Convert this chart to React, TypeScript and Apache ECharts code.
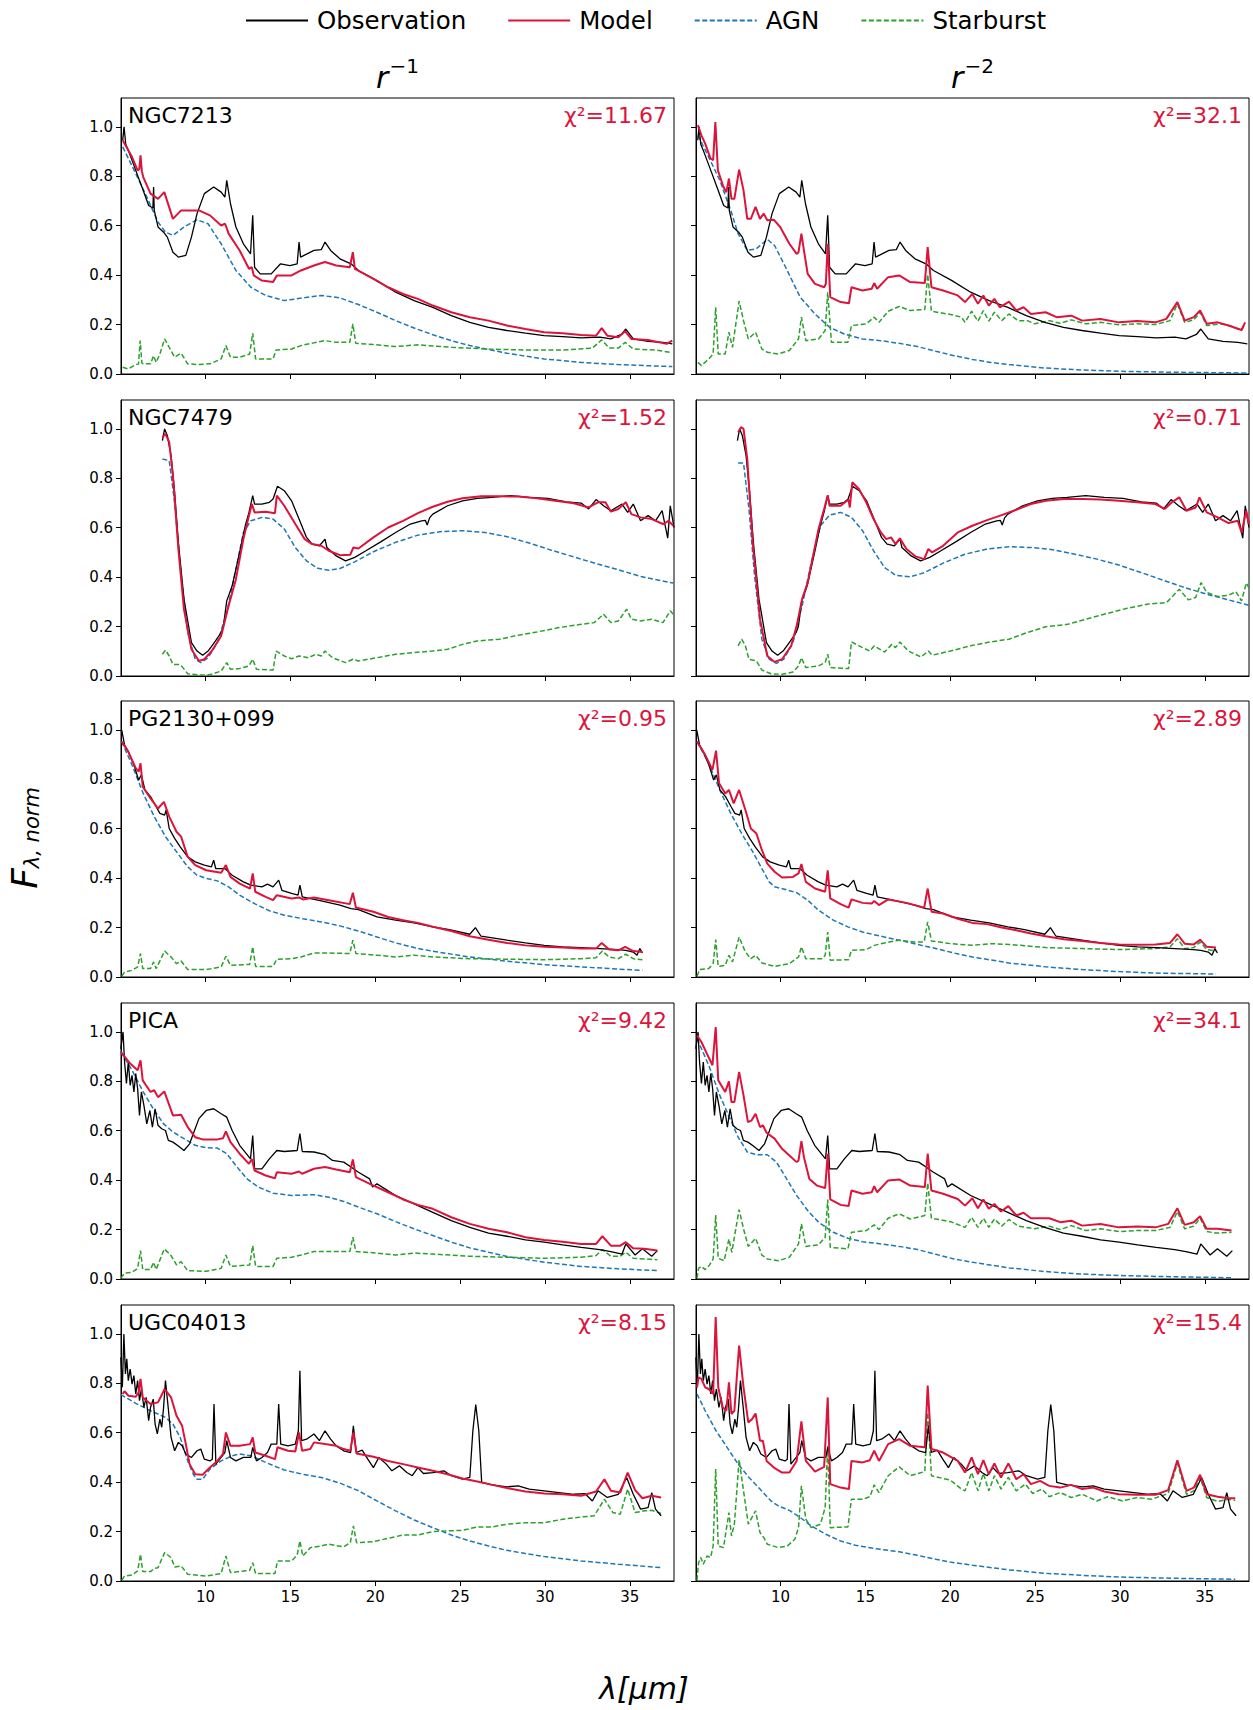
import React, { useEffect, useRef } from 'react';
import * as echarts from 'echarts';

const X_MIN = 5.02;
const X_MAX = 37.6;
const Y_MAX = 1.117;
const X_TICKS = [10, 15, 20, 25, 30, 35];
const Y_TICKS = [0, 0.2, 0.4, 0.6, 0.8, 1.0];
const GALAXIES = ['NGC7213', 'NGC7479', 'PG2130+099', 'PICA', 'UGC04013'];
const CHI_R1 = ['11.67', '1.52', '0.95', '9.42', '8.15'];
const CHI_R2 = ['32.1', '0.71', '2.89', '34.1', '15.4'];

// ---------- NGC7213 ----------
const OBS_NGC7213 = [[5.12,0.946],[5.2,1.0],[5.3,0.93],[5.45,0.905],[5.89,0.824],[6.33,0.743],[6.65,0.682],[6.9,0.672],[6.94,0.757],[6.98,0.662],[7.2,0.595],[7.53,0.574],[7.75,0.554],[8.08,0.493],[8.4,0.473],[8.84,0.48],[9.17,0.554],[9.5,0.649],[9.93,0.73],[10.48,0.757],[10.92,0.736],[11.14,0.716],[11.25,0.784],[11.47,0.689],[11.79,0.595],[12.23,0.527],[12.65,0.486],[12.78,0.642],[12.89,0.432],[13.22,0.405],[13.87,0.405],[14.42,0.446],[14.97,0.439],[15.4,0.446],[15.51,0.534],[15.6,0.473],[16.39,0.5],[16.82,0.503],[17.04,0.534],[17.37,0.5],[17.92,0.466],[18.57,0.446],[19.01,0.419],[20.1,0.378],[21.2,0.331],[22.29,0.297],[23.39,0.27],[24.48,0.236],[25.57,0.209],[26.67,0.189],[27.76,0.176],[28.85,0.165],[29.95,0.155],[31.04,0.151],[32.13,0.146],[33.23,0.149],[33.88,0.142],[34.5,0.16],[34.76,0.182],[35.2,0.142],[36.07,0.132],[36.95,0.128],[37.5,0.122]];
const MOD1_NGC7213 = [[5.12,0.946],[5.67,0.878],[6.0,0.824],[6.1,0.83],[6.17,0.885],[6.25,0.82],[6.33,0.797],[6.76,0.73],[7.2,0.709],[7.57,0.736],[8.08,0.628],[8.56,0.662],[8.95,0.662],[9.61,0.662],[10.26,0.642],[10.92,0.601],[11.14,0.608],[11.2,0.6],[11.36,0.568],[12.01,0.5],[12.56,0.426],[12.73,0.432],[12.84,0.399],[13.32,0.378],[13.98,0.372],[14.2,0.399],[15.07,0.399],[15.62,0.419],[16.39,0.439],[17.04,0.453],[17.7,0.439],[18.5,0.432],[18.68,0.493],[18.8,0.425],[19.89,0.385],[20.76,0.351],[21.64,0.324],[22.51,0.304],[23.39,0.277],[24.48,0.25],[25.57,0.23],[26.67,0.216],[27.76,0.196],[28.85,0.182],[29.95,0.169],[31.04,0.165],[32.13,0.158],[33.01,0.155],[33.34,0.186],[33.67,0.155],[34.32,0.149],[34.72,0.173],[35.09,0.142],[36.07,0.138],[37.17,0.122],[37.5,0.135]];
const AGN1_NGC7213 = [[5.12,0.919],[5.89,0.811],[6.54,0.716],[7.2,0.615],[7.64,0.574],[8.08,0.561],[8.73,0.595],[9.5,0.624],[10.15,0.608],[10.92,0.527],[11.79,0.419],[12.67,0.351],[13.54,0.318],[14.64,0.297],[15.73,0.308],[16.82,0.318],[17.92,0.308],[19.01,0.281],[20.1,0.25],[21.2,0.216],[22.29,0.186],[23.39,0.159],[24.48,0.135],[25.57,0.115],[27.76,0.084],[29.95,0.061],[32.13,0.047],[34.32,0.038],[37.5,0.03]];
const SB1_NGC7213 = [[5.12,0.027],[5.45,0.02],[5.89,0.038],[6.05,0.04],[6.15,0.135],[6.25,0.045],[6.33,0.041],[6.76,0.041],[6.94,0.074],[7.09,0.047],[7.31,0.081],[7.59,0.142],[7.86,0.108],[8.18,0.068],[8.56,0.084],[8.95,0.041],[9.61,0.038],[10.26,0.041],[10.92,0.061],[11.2,0.115],[11.47,0.068],[12.01,0.068],[12.6,0.081],[12.78,0.165],[12.95,0.061],[13.98,0.061],[14.16,0.097],[15.07,0.101],[15.62,0.115],[16.39,0.126],[17.04,0.135],[17.7,0.128],[18.5,0.128],[18.68,0.203],[18.85,0.124],[19.89,0.119],[21.2,0.111],[22.51,0.118],[24.48,0.108],[26.67,0.101],[28.85,0.097],[31.04,0.097],[32.79,0.105],[33.34,0.138],[33.78,0.105],[34.32,0.105],[34.72,0.128],[35.2,0.101],[36.51,0.097],[37.38,0.088]];
const MOD2_NGC7213 = [[5.13,1.007],[5.34,0.966],[5.56,0.932],[5.88,0.872],[6.03,0.865],[6.16,1.02],[6.31,0.824],[6.64,0.757],[6.81,0.736],[6.96,0.791],[7.11,0.709],[7.28,0.709],[7.56,0.827],[7.82,0.743],[8.04,0.628],[8.25,0.628],[8.53,0.676],[8.79,0.628],[9.01,0.649],[9.22,0.622],[9.61,0.624],[9.98,0.595],[10.52,0.527],[10.95,0.486],[11.06,0.493],[11.23,0.568],[11.38,0.5],[11.6,0.405],[12.03,0.365],[12.57,0.351],[12.67,0.365],[12.78,0.527],[12.93,0.311],[13.54,0.291],[14.03,0.286],[14.18,0.351],[14.83,0.338],[15.37,0.345],[15.52,0.368],[15.69,0.345],[16.34,0.392],[16.99,0.399],[17.64,0.372],[18.5,0.368],[18.67,0.514],[18.89,0.351],[19.58,0.338],[20.44,0.318],[20.87,0.291],[21.3,0.324],[21.63,0.284],[21.95,0.318],[22.27,0.277],[22.6,0.304],[22.92,0.27],[23.46,0.293],[23.89,0.257],[24.32,0.27],[24.75,0.243],[25.62,0.25],[26.26,0.23],[27.13,0.236],[27.77,0.216],[28.85,0.223],[29.93,0.209],[31.01,0.214],[32.09,0.209],[32.73,0.223],[33.38,0.291],[33.81,0.216],[34.35,0.23],[34.72,0.257],[35.11,0.203],[35.75,0.209],[36.4,0.196],[37.16,0.178],[37.37,0.209]];
const AGN2_NGC7213 = [[5.13,0.966],[5.77,0.878],[6.42,0.784],[7.07,0.662],[7.5,0.568],[8.04,0.5],[8.58,0.507],[9.22,0.545],[9.65,0.52],[10.3,0.432],[11.16,0.311],[12.03,0.243],[12.89,0.189],[13.75,0.162],[14.83,0.142],[15.91,0.135],[16.99,0.124],[18.07,0.111],[19.15,0.092],[20.22,0.074],[21.3,0.059],[22.38,0.047],[23.46,0.038],[25.62,0.024],[27.77,0.016],[29.93,0.011],[33.17,0.007],[37.55,0.004]];
const SB2_NGC7213 = [[5.13,0.047],[5.34,0.034],[5.77,0.061],[6.03,0.081],[6.18,0.27],[6.33,0.081],[6.74,0.081],[6.96,0.169],[7.17,0.108],[7.56,0.295],[7.82,0.216],[8.1,0.142],[8.53,0.169],[8.9,0.101],[9.22,0.088],[9.87,0.081],[10.52,0.095],[11.06,0.142],[11.23,0.23],[11.49,0.135],[12.24,0.142],[12.63,0.176],[12.78,0.331],[13.0,0.128],[13.97,0.128],[14.18,0.196],[15.05,0.203],[15.52,0.23],[15.8,0.209],[16.34,0.254],[16.99,0.273],[17.64,0.257],[18.5,0.261],[18.67,0.403],[18.89,0.254],[20.01,0.241],[20.66,0.23],[20.87,0.209],[21.26,0.254],[21.63,0.214],[21.95,0.257],[22.27,0.214],[22.6,0.25],[23.03,0.216],[23.46,0.243],[24.0,0.216],[24.54,0.216],[24.97,0.203],[25.83,0.216],[26.48,0.205],[27.13,0.219],[27.99,0.203],[28.85,0.209],[29.93,0.199],[31.01,0.203],[32.09,0.2],[32.95,0.216],[33.38,0.284],[33.81,0.209],[34.35,0.219],[34.72,0.25],[35.11,0.196],[35.97,0.203],[36.62,0.192],[37.16,0.176],[37.37,0.203]];

// ---------- NGC7479 ----------
const OBS_NGC7479 = [[7.46,0.953],[7.59,1.0],[7.75,0.973],[7.97,0.892],[8.18,0.743],[8.4,0.541],[8.73,0.311],[9.17,0.135],[9.5,0.101],[9.83,0.084],[10.15,0.101],[10.59,0.142],[10.92,0.176],[11.05,0.2],[11.25,0.304],[11.57,0.365],[12.01,0.5],[12.34,0.608],[12.56,0.662],[12.78,0.73],[12.89,0.696],[13.32,0.696],[13.76,0.703],[13.98,0.716],[14.24,0.768],[14.64,0.75],[15.07,0.709],[15.51,0.635],[15.95,0.561],[16.28,0.534],[16.71,0.527],[17.04,0.554],[17.15,0.52],[17.7,0.486],[18.25,0.466],[18.79,0.48],[19.45,0.507],[20.32,0.543],[21.2,0.581],[22.07,0.615],[22.73,0.628],[22.95,0.63],[23.06,0.611],[23.2,0.64],[23.39,0.655],[24.26,0.689],[25.14,0.709],[26.01,0.719],[26.89,0.723],[27.98,0.73],[29.07,0.723],[30.17,0.719],[31.26,0.705],[32.13,0.7],[32.57,0.676],[33.01,0.714],[33.45,0.689],[33.88,0.669],[34.54,0.696],[34.87,0.662],[35.2,0.696],[35.63,0.628],[36.07,0.649],[36.51,0.628],[36.9,0.669],[37.23,0.558],[37.38,0.689],[37.6,0.601]];
const MOD1_NGC7479 = [[7.46,0.966],[7.64,0.98],[7.86,0.946],[8.08,0.811],[8.4,0.514],[8.73,0.27],[9.17,0.108],[9.61,0.061],[9.93,0.068],[10.37,0.101],[10.92,0.162],[11.36,0.284],[11.79,0.392],[12.23,0.554],[12.56,0.649],[12.73,0.696],[12.89,0.662],[13.54,0.665],[14.09,0.659],[14.2,0.73],[14.64,0.689],[15.29,0.615],[15.84,0.554],[16.28,0.534],[16.82,0.527],[17.26,0.507],[17.92,0.489],[18.53,0.491],[18.71,0.52],[19.01,0.516],[19.89,0.561],[20.76,0.601],[21.64,0.628],[22.51,0.659],[23.39,0.685],[24.26,0.705],[25.14,0.719],[26.23,0.727],[27.32,0.727],[28.42,0.726],[29.51,0.719],[30.6,0.709],[31.7,0.699],[32.57,0.682],[33.12,0.703],[33.56,0.703],[33.88,0.665],[34.32,0.676],[34.76,0.703],[35.09,0.655],[35.63,0.642],[36.29,0.635],[36.95,0.615],[37.28,0.628],[37.56,0.608]];
const AGN1_NGC7479 = [[7.46,0.878],[7.86,0.872],[8.18,0.703],[8.51,0.446],[8.95,0.176],[9.39,0.068],[9.72,0.054],[10.15,0.074],[10.7,0.135],[11.25,0.257],[11.79,0.432],[12.23,0.581],[12.67,0.628],[13.32,0.642],[13.98,0.635],[14.64,0.595],[15.29,0.52],[15.95,0.466],[16.61,0.436],[17.26,0.428],[17.92,0.435],[18.79,0.462],[19.89,0.503],[21.2,0.541],[22.51,0.57],[23.82,0.584],[25.14,0.588],[26.45,0.581],[27.76,0.564],[29.07,0.538],[30.38,0.509],[31.7,0.482],[33.01,0.455],[34.32,0.43],[35.63,0.403],[37.56,0.376]];
const SB1_NGC7479 = [[7.46,0.088],[7.64,0.105],[7.86,0.081],[8.08,0.047],[8.4,0.047],[8.62,0.038],[8.95,0.009],[9.61,0.004],[10.26,0.005],[10.92,0.02],[11.25,0.054],[11.47,0.027],[12.01,0.03],[12.56,0.041],[12.78,0.068],[13.0,0.027],[13.98,0.024],[14.16,0.101],[14.64,0.081],[15.07,0.07],[15.51,0.081],[16.06,0.074],[16.5,0.088],[16.82,0.081],[17.04,0.101],[17.48,0.074],[18.25,0.054],[18.68,0.068],[19.01,0.061],[20.1,0.074],[21.2,0.088],[22.29,0.095],[23.39,0.101],[24.26,0.108],[25.14,0.128],[26.01,0.142],[27.32,0.149],[28.42,0.165],[29.51,0.178],[30.82,0.196],[32.13,0.209],[32.9,0.216],[33.45,0.25],[33.88,0.216],[34.32,0.223],[34.81,0.27],[35.09,0.23],[35.63,0.223],[36.29,0.23],[36.95,0.216],[37.38,0.264],[37.56,0.25]];
const MOD2_NGC7479 = [[7.5,0.986],[7.67,1.007],[7.82,1.0],[8.04,0.878],[8.36,0.541],[8.79,0.23],[9.22,0.081],[9.65,0.057],[10.09,0.068],[10.63,0.122],[10.95,0.203],[11.27,0.311],[11.6,0.378],[12.24,0.595],[12.57,0.676],[12.78,0.732],[12.89,0.689],[13.54,0.689],[14.01,0.714],[14.08,0.682],[14.23,0.784],[14.62,0.757],[15.05,0.703],[15.48,0.635],[15.91,0.581],[16.23,0.554],[16.51,0.561],[16.77,0.534],[17.03,0.557],[17.42,0.514],[17.96,0.484],[18.46,0.473],[18.71,0.514],[18.93,0.5],[19.58,0.527],[20.44,0.581],[21.3,0.608],[22.17,0.631],[23.03,0.651],[23.89,0.673],[24.75,0.696],[25.62,0.709],[26.7,0.716],[27.77,0.716],[28.85,0.714],[29.93,0.709],[31.01,0.703],[32.09,0.696],[32.63,0.676],[33.06,0.703],[33.49,0.723],[33.92,0.669],[34.46,0.682],[34.68,0.723],[35.11,0.662],[35.75,0.642],[36.4,0.619],[36.94,0.628],[37.16,0.581],[37.44,0.669],[37.59,0.615]];
const AGN2_NGC7479 = [[7.5,0.862],[7.82,0.862],[8.14,0.676],[8.47,0.405],[8.9,0.149],[9.33,0.068],[9.76,0.051],[10.19,0.068],[10.73,0.135],[11.27,0.284],[11.81,0.459],[12.35,0.608],[12.89,0.651],[13.54,0.662],[14.18,0.642],[14.83,0.588],[15.48,0.507],[16.13,0.439],[16.77,0.408],[17.64,0.401],[18.5,0.419],[19.58,0.457],[20.87,0.493],[22.17,0.514],[23.46,0.523],[24.75,0.52],[26.05,0.511],[27.34,0.493],[28.64,0.473],[29.93,0.449],[31.23,0.419],[32.52,0.388],[33.81,0.358],[35.11,0.331],[36.4,0.308],[37.59,0.286]];
const SB2_NGC7479 = [[7.5,0.122],[7.71,0.149],[7.93,0.122],[8.14,0.068],[8.58,0.061],[8.9,0.024],[9.44,0.009],[10.09,0.007],[10.73,0.016],[11.06,0.041],[11.23,0.074],[11.49,0.034],[12.24,0.041],[12.63,0.054],[12.78,0.088],[12.93,0.034],[14.01,0.03],[14.18,0.138],[14.83,0.115],[15.26,0.101],[15.52,0.122],[16.13,0.097],[16.56,0.128],[16.77,0.115],[17.03,0.138],[17.53,0.101],[18.28,0.077],[18.71,0.101],[18.93,0.084],[20.01,0.101],[21.3,0.124],[22.38,0.138],[23.46,0.149],[24.54,0.176],[25.62,0.199],[26.91,0.209],[27.99,0.23],[29.07,0.25],[30.36,0.273],[31.66,0.291],[32.74,0.297],[33.49,0.351],[34.03,0.308],[34.46,0.318],[34.78,0.378],[35.11,0.338],[35.75,0.322],[36.4,0.327],[36.83,0.341],[37.16,0.304],[37.44,0.376],[37.59,0.358]];

// ---------- PG2130+099 ----------
const OBS_PG2130 = [[5.06,1.0],[5.23,0.939],[5.45,0.912],[5.78,0.858],[6.06,0.797],[6.22,0.818],[6.43,0.757],[6.76,0.73],[7.09,0.689],[7.31,0.662],[7.59,0.655],[7.68,0.676],[7.86,0.601],[8.18,0.561],[8.51,0.527],[8.95,0.486],[9.39,0.466],[9.93,0.453],[10.35,0.446],[10.48,0.473],[10.6,0.439],[11.14,0.439],[11.57,0.412],[12.23,0.385],[12.67,0.372],[13.32,0.365],[13.65,0.376],[13.98,0.365],[14.31,0.392],[14.5,0.351],[15.07,0.338],[15.45,0.331],[15.56,0.372],[15.7,0.324],[16.82,0.308],[17.92,0.291],[18.57,0.277],[19.01,0.273],[20.1,0.243],[21.2,0.23],[22.29,0.219],[23.39,0.203],[24.37,0.192],[25.57,0.173],[25.9,0.2],[26.23,0.165],[27.76,0.149],[28.85,0.138],[29.95,0.128],[31.04,0.122],[32.13,0.119],[33.23,0.115],[34.32,0.111],[34.76,0.108],[35.2,0.101],[35.42,0.088],[35.59,0.115],[35.74,0.097]];
const MOD1_PG2130 = [[5.06,0.953],[5.45,0.912],[5.89,0.845],[6.06,0.831],[6.17,0.865],[6.3,0.77],[6.76,0.723],[7.2,0.682],[7.55,0.709],[7.86,0.649],[8.29,0.588],[8.56,0.568],[8.95,0.486],[9.39,0.453],[10.04,0.432],[10.92,0.422],[11.2,0.453],[11.47,0.405],[12.01,0.378],[12.62,0.358],[12.78,0.419],[12.93,0.345],[13.54,0.324],[13.98,0.311],[14.2,0.331],[15.07,0.318],[15.51,0.322],[15.73,0.314],[16.39,0.322],[17.26,0.311],[18.5,0.295],[18.68,0.341],[18.86,0.281],[19.89,0.264],[20.76,0.243],[21.64,0.23],[22.51,0.219],[23.39,0.203],[24.48,0.186],[25.57,0.165],[26.67,0.151],[27.76,0.138],[28.85,0.128],[29.95,0.122],[31.04,0.119],[32.13,0.115],[33.01,0.115],[33.34,0.138],[33.78,0.111],[34.32,0.108],[34.72,0.122],[35.2,0.105],[35.74,0.101]];
const AGN1_PG2130 = [[5.06,0.953],[5.67,0.858],[6.33,0.743],[6.98,0.649],[7.64,0.568],[8.29,0.507],[8.95,0.446],[9.5,0.412],[10.04,0.399],[10.7,0.389],[11.36,0.365],[12.01,0.331],[12.89,0.297],[13.76,0.268],[14.64,0.25],[15.73,0.236],[16.82,0.223],[17.92,0.207],[19.01,0.186],[20.1,0.162],[21.2,0.138],[22.29,0.119],[23.39,0.104],[25.57,0.081],[27.76,0.064],[29.95,0.05],[32.13,0.041],[34.32,0.032],[35.74,0.027]];
const SB1_PG2130 = [[5.06,0.003],[5.23,0.02],[5.67,0.027],[6.0,0.041],[6.17,0.095],[6.3,0.034],[6.76,0.034],[6.94,0.061],[7.09,0.034],[7.59,0.105],[7.97,0.081],[8.29,0.054],[8.56,0.065],[8.95,0.03],[10.04,0.03],[10.92,0.041],[11.2,0.084],[11.47,0.047],[12.6,0.051],[12.78,0.122],[12.95,0.043],[13.98,0.043],[14.2,0.072],[15.07,0.074],[15.62,0.081],[16.39,0.097],[17.26,0.097],[18.5,0.095],[18.68,0.149],[18.86,0.095],[20.1,0.088],[21.2,0.081],[22.29,0.088],[23.39,0.081],[25.57,0.074],[27.76,0.072],[29.95,0.07],[32.13,0.074],[33.01,0.078],[33.38,0.105],[33.78,0.081],[34.32,0.074],[34.76,0.092],[35.2,0.074],[35.74,0.07]];
const MOD2_PG2130 = [[5.08,0.953],[5.56,0.899],[5.99,0.838],[6.2,0.916],[6.38,0.784],[6.74,0.743],[6.96,0.757],[7.24,0.703],[7.56,0.757],[7.93,0.676],[8.25,0.601],[8.58,0.581],[8.9,0.514],[9.22,0.459],[9.65,0.426],[10.09,0.403],[10.73,0.405],[11.06,0.419],[11.23,0.457],[11.49,0.385],[12.03,0.358],[12.63,0.345],[12.78,0.432],[12.93,0.318],[13.54,0.295],[14.01,0.281],[14.18,0.314],[14.83,0.3],[15.37,0.297],[15.52,0.308],[15.8,0.291],[16.34,0.314],[17.42,0.3],[18.46,0.28],[18.67,0.358],[18.9,0.264],[19.58,0.257],[20.44,0.236],[21.3,0.219],[22.17,0.214],[23.03,0.2],[23.89,0.189],[24.75,0.176],[25.62,0.165],[26.7,0.153],[27.77,0.146],[28.85,0.138],[29.93,0.132],[31.01,0.131],[32.09,0.132],[32.95,0.138],[33.38,0.173],[33.81,0.135],[34.35,0.132],[34.72,0.151],[35.11,0.122],[35.65,0.119]];
const AGN2_PG2130 = [[5.08,0.953],[5.77,0.865],[6.42,0.757],[7.07,0.662],[7.71,0.581],[8.36,0.507],[8.9,0.439],[9.33,0.385],[9.65,0.365],[10.3,0.354],[10.95,0.341],[11.6,0.311],[12.24,0.27],[13.11,0.23],[13.97,0.203],[14.83,0.182],[15.91,0.165],[16.99,0.149],[18.07,0.132],[19.15,0.115],[20.22,0.097],[21.3,0.081],[23.46,0.057],[25.62,0.041],[27.77,0.03],[29.93,0.022],[32.09,0.016],[35.65,0.012]];
const SB2_PG2130 = [[5.08,0.003],[5.23,0.03],[5.77,0.034],[6.03,0.054],[6.18,0.151],[6.33,0.043],[6.74,0.047],[6.96,0.088],[7.17,0.061],[7.56,0.162],[7.93,0.101],[8.25,0.074],[8.53,0.088],[8.9,0.057],[9.65,0.043],[10.52,0.054],[11.06,0.081],[11.23,0.122],[11.49,0.074],[12.46,0.074],[12.63,0.088],[12.78,0.182],[12.93,0.068],[14.01,0.07],[14.18,0.108],[15.05,0.111],[15.52,0.128],[16.13,0.138],[16.99,0.149],[17.85,0.142],[18.46,0.142],[18.67,0.223],[18.89,0.146],[20.01,0.135],[21.3,0.128],[22.38,0.135],[23.46,0.132],[25.62,0.119],[27.77,0.115],[29.93,0.111],[32.09,0.115],[32.95,0.122],[33.38,0.155],[33.81,0.115],[34.35,0.119],[34.72,0.142],[35.11,0.111],[35.65,0.105]];

// ---------- PICA ----------
const OBS_PICA = [[5.01,0.932],[5.14,1.0],[5.23,0.878],[5.34,0.791],[5.45,0.878],[5.56,0.784],[5.67,0.824],[5.78,0.757],[5.89,0.831],[6.0,0.77],[6.11,0.662],[6.22,0.757],[6.37,0.703],[6.54,0.628],[6.72,0.682],[6.87,0.615],[7.03,0.689],[7.2,0.622],[7.42,0.608],[7.64,0.601],[7.81,0.561],[8.08,0.554],[8.4,0.538],[8.73,0.52],[9.06,0.547],[9.28,0.588],[9.61,0.649],[10.04,0.682],[10.48,0.689],[10.92,0.669],[11.25,0.655],[11.57,0.601],[12.01,0.541],[12.65,0.486],[12.78,0.581],[12.89,0.446],[13.32,0.446],[13.76,0.486],[14.2,0.52],[14.64,0.516],[15.4,0.52],[15.56,0.588],[15.7,0.516],[16.39,0.514],[17.04,0.503],[17.48,0.48],[18.14,0.473],[18.57,0.453],[19.01,0.432],[19.67,0.405],[19.84,0.372],[20.1,0.385],[21.2,0.338],[22.29,0.304],[23.39,0.27],[24.48,0.236],[25.57,0.209],[26.67,0.186],[27.76,0.173],[28.85,0.158],[29.95,0.149],[31.04,0.138],[32.13,0.128],[33.23,0.119],[33.88,0.111],[34.54,0.101],[34.76,0.142],[35.31,0.097],[35.74,0.122],[36.29,0.092],[36.62,0.115]];
const MOD1_PICA = [[5.01,0.919],[5.56,0.872],[6.0,0.845],[6.17,0.885],[6.3,0.804],[6.76,0.757],[6.98,0.764],[7.2,0.736],[7.57,0.759],[8.08,0.662],[8.56,0.665],[8.95,0.615],[9.39,0.574],[9.83,0.565],[10.7,0.565],[11.03,0.57],[11.2,0.597],[11.47,0.554],[12.01,0.507],[12.56,0.466],[12.73,0.486],[12.89,0.439],[13.54,0.419],[14.09,0.408],[14.2,0.432],[15.07,0.426],[15.51,0.435],[15.69,0.426],[16.39,0.446],[17.04,0.453],[17.7,0.443],[18.5,0.432],[18.68,0.484],[18.86,0.412],[19.89,0.378],[20.76,0.351],[21.64,0.322],[22.51,0.3],[23.39,0.284],[24.48,0.25],[25.57,0.223],[26.67,0.203],[27.76,0.189],[28.85,0.169],[29.95,0.158],[31.04,0.151],[32.13,0.142],[33.01,0.142],[33.38,0.173],[33.88,0.135],[34.43,0.135],[34.76,0.149],[35.2,0.124],[35.85,0.122],[36.62,0.115]];
const AGN1_PICA = [[5.01,0.919],[5.67,0.845],[6.33,0.757],[6.98,0.682],[7.53,0.628],[8.08,0.595],[8.73,0.568],[9.39,0.541],[10.04,0.531],[10.7,0.53],[11.25,0.507],[11.79,0.459],[12.45,0.405],[13.11,0.372],[13.98,0.347],[15.07,0.338],[16.39,0.341],[17.26,0.331],[18.14,0.314],[19.01,0.291],[20.1,0.264],[21.2,0.232],[22.29,0.203],[23.39,0.176],[24.48,0.149],[25.57,0.126],[27.76,0.091],[29.95,0.068],[32.13,0.051],[34.32,0.041],[36.62,0.034]];
const SB1_PICA = [[5.01,0.003],[5.23,0.024],[5.67,0.027],[6.0,0.043],[6.17,0.115],[6.3,0.038],[6.76,0.038],[6.94,0.068],[7.09,0.038],[7.57,0.122],[7.97,0.095],[8.29,0.057],[8.56,0.07],[8.95,0.034],[10.04,0.031],[10.92,0.043],[11.2,0.097],[11.47,0.051],[12.6,0.057],[12.78,0.135],[12.95,0.051],[13.98,0.051],[14.2,0.084],[15.07,0.088],[15.62,0.097],[16.39,0.111],[17.26,0.111],[18.5,0.111],[18.68,0.169],[18.86,0.111],[20.1,0.105],[21.2,0.097],[22.29,0.105],[23.39,0.101],[25.57,0.092],[27.76,0.088],[29.95,0.084],[32.13,0.088],[33.01,0.095],[33.38,0.119],[33.88,0.092],[34.43,0.092],[34.76,0.108],[35.2,0.084],[36.62,0.078]];
const MOD2_PICA = [[5.08,0.986],[5.34,0.959],[5.66,0.912],[5.99,0.865],[6.18,1.02],[6.33,0.804],[6.74,0.757],[6.96,0.8],[7.11,0.716],[7.28,0.716],[7.56,0.838],[7.82,0.743],[8.08,0.635],[8.3,0.642],[8.53,0.669],[8.79,0.615],[8.96,0.622],[9.18,0.592],[9.65,0.568],[10.09,0.527],[10.52,0.5],[10.95,0.473],[11.06,0.48],[11.23,0.558],[11.38,0.493],[11.7,0.405],[12.14,0.378],[12.63,0.368],[12.78,0.507],[12.93,0.322],[13.54,0.3],[14.01,0.295],[14.18,0.358],[14.83,0.345],[15.37,0.351],[15.52,0.376],[15.69,0.351],[16.34,0.399],[16.99,0.403],[17.64,0.378],[18.5,0.372],[18.67,0.507],[18.89,0.358],[19.58,0.345],[20.44,0.324],[20.87,0.297],[21.3,0.327],[21.63,0.286],[21.95,0.322],[22.27,0.284],[22.6,0.304],[22.99,0.273],[23.42,0.295],[23.89,0.257],[24.32,0.268],[24.75,0.246],[25.83,0.246],[26.48,0.23],[27.13,0.236],[27.77,0.216],[28.85,0.223],[29.93,0.209],[31.01,0.212],[32.09,0.209],[32.84,0.223],[33.38,0.286],[33.81,0.219],[34.35,0.23],[34.72,0.254],[35.11,0.203],[35.75,0.203],[36.57,0.196]];
const AGN2_PICA = [[5.08,0.973],[5.77,0.865],[6.42,0.743],[7.07,0.642],[7.5,0.574],[8.04,0.514],[8.58,0.503],[9.22,0.503],[9.76,0.473],[10.3,0.412],[10.95,0.338],[11.6,0.277],[12.24,0.23],[13.11,0.189],[13.97,0.165],[14.83,0.151],[15.91,0.142],[16.99,0.132],[18.07,0.119],[19.15,0.1],[20.22,0.081],[21.3,0.068],[23.46,0.045],[25.62,0.03],[27.77,0.02],[29.93,0.014],[33.17,0.009],[36.57,0.005]];
const SB2_PICA = [[5.08,0.003],[5.17,0.043],[5.34,0.051],[5.56,0.038],[5.82,0.057],[6.03,0.081],[6.18,0.259],[6.33,0.084],[6.68,0.074],[6.96,0.162],[7.13,0.108],[7.56,0.281],[7.82,0.203],[8.1,0.132],[8.53,0.165],[8.9,0.097],[9.22,0.081],[9.87,0.074],[10.52,0.088],[11.06,0.142],[11.23,0.223],[11.49,0.132],[12.24,0.138],[12.63,0.169],[12.78,0.322],[12.93,0.128],[13.97,0.122],[14.18,0.189],[15.05,0.196],[15.52,0.219],[15.8,0.2],[16.34,0.246],[16.99,0.264],[17.64,0.243],[18.5,0.257],[18.67,0.389],[18.89,0.246],[20.01,0.232],[20.87,0.209],[21.26,0.25],[21.63,0.209],[21.95,0.246],[22.27,0.209],[22.6,0.243],[23.03,0.214],[23.46,0.241],[24.0,0.214],[24.97,0.203],[25.83,0.214],[26.48,0.2],[27.13,0.216],[27.99,0.196],[28.85,0.203],[29.93,0.192],[31.01,0.196],[32.09,0.196],[32.95,0.209],[33.38,0.273],[33.81,0.203],[34.35,0.214],[34.72,0.246],[35.11,0.192],[35.65,0.186],[36.57,0.189]];

// ---------- UGC04013 ----------
const OBS_UGC04013 = [[5.01,0.905],[5.1,0.784],[5.19,1.0],[5.28,0.838],[5.36,0.899],[5.45,0.811],[5.56,0.858],[5.67,0.797],[5.78,0.831],[5.89,0.757],[6.0,0.811],[6.11,0.73],[6.22,0.777],[6.37,0.703],[6.5,0.743],[6.65,0.649],[6.76,0.703],[6.92,0.736],[7.03,0.635],[7.16,0.595],[7.31,0.655],[7.42,0.622],[7.53,0.703],[7.64,0.811],[7.81,0.696],[7.97,0.581],[8.18,0.527],[8.4,0.561],[8.62,0.547],[8.84,0.514],[9.17,0.5],[9.5,0.527],[9.72,0.534],[9.93,0.493],[10.26,0.486],[10.4,0.493],[10.5,0.716],[10.61,0.473],[10.92,0.5],[11.14,0.52],[11.25,0.568],[11.47,0.5],[11.79,0.486],[12.23,0.5],[12.67,0.5],[12.78,0.541],[13.0,0.486],[13.32,0.5],[13.65,0.52],[13.87,0.554],[14.2,0.554],[14.31,0.716],[14.43,0.554],[14.86,0.547],[15.29,0.554],[15.47,0.608],[15.56,0.851],[15.66,0.568],[15.95,0.574],[16.39,0.595],[16.71,0.568],[17.04,0.608],[17.37,0.574],[17.7,0.547],[18.14,0.527],[18.55,0.52],[18.71,0.628],[18.88,0.52],[19.23,0.53],[19.56,0.493],[19.89,0.459],[20.21,0.5],[20.65,0.473],[20.98,0.446],[21.42,0.466],[21.86,0.439],[22.18,0.426],[22.51,0.459],[22.84,0.435],[23.39,0.439],[24.04,0.446],[24.48,0.426],[25.14,0.412],[25.57,0.419],[25.75,0.608],[25.92,0.714],[26.1,0.608],[26.27,0.399],[26.89,0.389],[27.76,0.381],[28.42,0.385],[29.07,0.372],[29.95,0.365],[30.82,0.358],[31.7,0.351],[32.35,0.354],[32.79,0.324],[33.12,0.365],[33.67,0.338],[34.32,0.351],[34.81,0.419],[35.2,0.351],[35.63,0.291],[36.07,0.297],[36.29,0.358],[36.51,0.291],[36.84,0.264]];
const MOD1_UGC04013 = [[5.12,0.757],[5.23,0.768],[5.45,0.75],[5.89,0.746],[6.06,0.764],[6.17,0.818],[6.3,0.743],[6.76,0.716],[7.2,0.723],[7.59,0.777],[7.97,0.743],[8.29,0.669],[8.62,0.628],[8.84,0.554],[9.06,0.473],[9.39,0.432],[9.83,0.43],[10.26,0.459],[10.7,0.486],[11.03,0.514],[11.2,0.601],[11.47,0.547],[12.01,0.547],[12.62,0.554],[12.78,0.581],[12.93,0.52],[13.54,0.507],[14.09,0.493],[14.24,0.541],[14.86,0.527],[15.29,0.524],[15.51,0.601],[15.69,0.527],[16.17,0.534],[16.39,0.561],[17.04,0.554],[17.7,0.547],[18.14,0.534],[18.53,0.527],[18.71,0.601],[18.9,0.516],[19.89,0.503],[20.76,0.486],[21.64,0.473],[22.51,0.459],[23.39,0.446],[24.26,0.432],[25.14,0.415],[26.01,0.403],[26.89,0.389],[27.76,0.376],[28.85,0.362],[29.95,0.354],[31.04,0.351],[32.13,0.345],[33.01,0.362],[33.5,0.412],[33.88,0.365],[34.43,0.358],[34.87,0.439],[35.31,0.368],[35.74,0.335],[36.29,0.345],[36.84,0.338]];
const AGN1_UGC04013 = [[5.01,0.754],[5.89,0.719],[6.76,0.689],[7.64,0.662],[8.08,0.635],[8.51,0.581],[8.95,0.486],[9.28,0.432],[9.5,0.412],[9.83,0.412],[10.26,0.453],[10.92,0.486],[11.57,0.507],[12.01,0.514],[12.67,0.507],[13.54,0.48],[14.64,0.449],[15.73,0.432],[16.82,0.419],[17.92,0.396],[19.01,0.365],[20.1,0.324],[21.2,0.284],[22.29,0.247],[23.39,0.216],[24.48,0.186],[25.57,0.162],[26.67,0.142],[27.76,0.124],[28.85,0.111],[29.95,0.099],[32.13,0.081],[34.32,0.068],[36.84,0.054]];
const SB1_UGC04013 = [[5.06,0.003],[5.23,0.02],[5.67,0.024],[6.0,0.041],[6.17,0.108],[6.3,0.038],[6.76,0.038],[6.98,0.051],[7.2,0.054],[7.59,0.115],[7.97,0.095],[8.18,0.057],[8.56,0.061],[8.95,0.027],[10.04,0.02],[10.92,0.03],[11.2,0.101],[11.47,0.034],[12.6,0.043],[12.78,0.074],[12.95,0.03],[14.09,0.03],[14.24,0.081],[15.07,0.081],[15.4,0.105],[15.56,0.162],[15.73,0.101],[16.17,0.135],[16.82,0.142],[17.26,0.149],[18.14,0.138],[18.53,0.155],[18.71,0.223],[18.9,0.155],[19.89,0.159],[20.76,0.173],[21.64,0.186],[22.51,0.186],[23.39,0.2],[24.26,0.203],[25.14,0.205],[26.01,0.219],[26.89,0.219],[27.76,0.23],[28.85,0.236],[29.95,0.236],[31.04,0.25],[32.13,0.259],[32.9,0.264],[33.5,0.331],[34.0,0.277],[34.43,0.27],[34.87,0.372],[35.31,0.277],[35.85,0.284],[36.29,0.286],[36.84,0.273]];
const MOD2_UGC04013 = [[5.08,0.784],[5.17,0.824],[5.34,0.818],[5.56,0.784],[5.77,0.777],[6.03,0.757],[6.18,1.068],[6.33,0.784],[6.59,0.703],[6.81,0.689],[6.96,0.804],[7.11,0.676],[7.28,0.689],[7.56,0.953],[7.82,0.784],[8.1,0.642],[8.32,0.655],[8.53,0.678],[8.79,0.568],[8.96,0.568],[9.18,0.486],[9.61,0.459],[10.09,0.439],[10.52,0.439],[10.95,0.486],[11.23,0.646],[11.49,0.486],[12.03,0.443],[12.57,0.462],[12.78,0.743],[12.93,0.392],[13.54,0.378],[14.03,0.372],[14.18,0.486],[14.83,0.48],[15.26,0.489],[15.52,0.527],[15.8,0.486],[16.34,0.554],[16.99,0.574],[17.64,0.547],[18.5,0.541],[18.67,0.791],[18.89,0.534],[19.58,0.52],[20.44,0.486],[20.87,0.439],[21.26,0.5],[21.63,0.432],[21.95,0.489],[22.27,0.432],[22.6,0.476],[22.99,0.419],[23.42,0.476],[23.89,0.412],[24.32,0.432],[24.75,0.392],[25.29,0.405],[25.83,0.385],[26.48,0.378],[27.13,0.389],[27.77,0.372],[28.42,0.378],[29.07,0.362],[29.93,0.351],[31.01,0.349],[32.09,0.349],[32.84,0.368],[33.38,0.489],[33.92,0.365],[34.35,0.378],[34.72,0.43],[35.11,0.351],[35.75,0.341],[36.4,0.335],[36.79,0.335]];
const AGN2_UGC04013 = [[5.08,0.757],[5.56,0.689],[6.2,0.608],[6.85,0.541],[7.5,0.473],[8.14,0.419],[8.79,0.372],[9.44,0.324],[9.87,0.304],[10.52,0.286],[11.16,0.257],[11.81,0.223],[12.67,0.189],[13.54,0.162],[14.4,0.145],[15.48,0.132],[16.99,0.118],[18.07,0.104],[19.15,0.088],[20.22,0.074],[21.3,0.064],[23.46,0.045],[25.62,0.031],[27.77,0.023],[29.93,0.016],[33.17,0.011],[36.79,0.007]];
const SB2_UGC04013 = [[5.08,0.003],[5.17,0.074],[5.3,0.095],[5.45,0.068],[5.66,0.101],[5.88,0.095],[6.03,0.142],[6.18,0.453],[6.33,0.142],[6.64,0.135],[6.96,0.277],[7.11,0.182],[7.28,0.23],[7.56,0.491],[7.82,0.365],[8.1,0.23],[8.53,0.284],[8.79,0.196],[9.01,0.176],[9.22,0.149],[9.87,0.135],[10.41,0.142],[10.84,0.169],[11.06,0.216],[11.23,0.385],[11.49,0.25],[11.81,0.216],[12.35,0.23],[12.63,0.297],[12.78,0.547],[12.93,0.216],[13.97,0.219],[14.18,0.331],[14.83,0.331],[15.26,0.341],[15.52,0.389],[15.8,0.358],[16.34,0.426],[16.99,0.462],[17.64,0.426],[18.5,0.443],[18.67,0.682],[18.89,0.426],[20.01,0.408],[20.66,0.372],[20.87,0.365],[21.26,0.439],[21.63,0.365],[21.95,0.435],[22.27,0.365],[22.6,0.426],[22.99,0.372],[23.42,0.419],[23.89,0.365],[24.43,0.392],[24.86,0.354],[25.4,0.372],[25.83,0.341],[26.48,0.358],[27.13,0.338],[27.77,0.351],[28.64,0.324],[29.28,0.341],[30.15,0.324],[31.01,0.338],[31.87,0.331],[32.84,0.354],[33.38,0.476],[33.92,0.351],[34.35,0.365],[34.72,0.419],[35.11,0.338],[35.75,0.322],[36.4,0.331],[36.79,0.327]];

const OBS = [OBS_NGC7213, OBS_NGC7479, OBS_PG2130, OBS_PICA, OBS_UGC04013];
const MODEL_R1 = [MOD1_NGC7213, MOD1_NGC7479, MOD1_PG2130, MOD1_PICA, MOD1_UGC04013];
const MODEL_R2 = [MOD2_NGC7213, MOD2_NGC7479, MOD2_PG2130, MOD2_PICA, MOD2_UGC04013];
const AGN_R1 = [AGN1_NGC7213, AGN1_NGC7479, AGN1_PG2130, AGN1_PICA, AGN1_UGC04013];
const AGN_R2 = [AGN2_NGC7213, AGN2_NGC7479, AGN2_PG2130, AGN2_PICA, AGN2_UGC04013];
const SB_R1 = [SB1_NGC7213, SB1_NGC7479, SB1_PG2130, SB1_PICA, SB1_UGC04013];
const SB_R2 = [SB2_NGC7213, SB2_NGC7479, SB2_PG2130, SB2_PICA, SB2_UGC04013];

const COL_LEFT = [121, 696];
const COL_W = 553;
const ROW_TOP = [98, 400, 701, 1003, 1305];
const ROW_H = 276;
const FONT = 'DejaVu Sans';
const RED = '#DC143C';
const BLUE = '#1f77b4';
const GREEN = '#2ca02c';

function buildOption() {
  const grid: any[] = [];
  const xAxis: any[] = [];
  const yAxis: any[] = [];
  const series: any[] = [];
  const graphic: any[] = [];
  let idx = 0;
  for (let r = 0; r < 5; r++) {
    for (let c = 0; c < 2; c++) {
      const left = COL_LEFT[c];
      const top = ROW_TOP[r];
      grid.push({ left, top, width: COL_W, height: ROW_H, show: true, borderColor: '#000', borderWidth: 1, backgroundColor: 'transparent' });
      xAxis.push({
        type: 'value', gridIndex: idx, min: X_MIN, max: X_MAX,
        axisLine: { show: true, onZero: false, lineStyle: { color: '#000', width: 1 } },
        axisTick: { show: true, length: 5, customValues: X_TICKS, lineStyle: { color: '#000' } },
        axisLabel: { show: r === 4, customValues: X_TICKS, color: '#000', fontSize: 15, fontFamily: FONT, margin: 8 },
        splitLine: { show: false },
      });
      yAxis.push({
        type: 'value', gridIndex: idx, min: 0, max: Y_MAX,
        axisLine: { show: true, onZero: false, lineStyle: { color: '#000', width: 1 } },
        axisTick: { show: true, length: 5, customValues: Y_TICKS, lineStyle: { color: '#000' } },
        axisLabel: { show: c === 0, customValues: Y_TICKS, color: '#000', fontSize: 15, fontFamily: FONT, margin: 8, formatter: (v: number) => v.toFixed(1) },
        splitLine: { show: false },
      });
      const common = { type: 'line', xAxisIndex: idx, yAxisIndex: idx, showSymbol: false, symbol: 'none', clip: true, silent: true };
      series.push({ ...common, name: 'Observation', data: OBS[r], lineStyle: { color: '#000', width: 1.3 }, itemStyle: { color: '#000' }, z: 3 });
      series.push({ ...common, name: 'Model', data: c === 0 ? MODEL_R1[r] : MODEL_R2[r], lineStyle: { color: RED, width: 2 }, itemStyle: { color: RED }, z: 4 });
      series.push({ ...common, name: 'AGN', data: c === 0 ? AGN_R1[r] : AGN_R2[r], lineStyle: { color: BLUE, width: 1.5, type: [5, 2.5] }, itemStyle: { color: BLUE }, z: 2 });
      series.push({ ...common, name: 'Starburst', data: c === 0 ? SB_R1[r] : SB_R2[r], lineStyle: { color: GREEN, width: 1.5, type: [5, 2.5] }, itemStyle: { color: GREEN }, z: 2 });
      if (c === 0) {
        graphic.push({ type: 'text', left: left + 7, top: top + 6, style: { text: GALAXIES[r], fill: '#000', font: `22px "${FONT}"` } });
      }
      graphic.push({ type: 'text', right: 1253 - (left + COL_W) + 7, top: top + 6, style: { text: 'χ²=' + (c === 0 ? CHI_R1[r] : CHI_R2[r]), fill: RED, font: `22px "${FONT}"` } });
      idx++;
    }
  }
  // column titles
  const titles = ['−1', '−2'];
  for (let c = 0; c < 2; c++) {
    graphic.push({
      type: 'text', x: COL_LEFT[c] + COL_W / 2, y: 74,
      style: {
        text: '{r|r}{s|' + titles[c] + '}', align: 'center', verticalAlign: 'middle',
        rich: {
          r: { fontSize: 30, fontStyle: 'italic', fontFamily: FONT, fill: '#000', lineHeight: 36, verticalAlign: 'bottom' },
          s: { fontSize: 20, fontFamily: FONT, fill: '#000', lineHeight: 36, verticalAlign: 'top', padding: [0, 0, 12, 1] },
        },
      },
    });
  }
  // y label
  graphic.push({
    type: 'text', x: 24, y: 838, rotation: Math.PI / 2,
    style: {
      text: '{f|F}{s|λ, norm}', align: 'center', verticalAlign: 'middle',
      rich: {
        f: { fontSize: 36, fontStyle: 'italic', fontFamily: FONT, fill: '#000', lineHeight: 44 },
        s: { fontSize: 21, fontStyle: 'italic', fontFamily: FONT, fill: '#000', lineHeight: 44, padding: [16, 0, 0, 0] },
      },
    },
  });
  // x label
  graphic.push({
    type: 'text', x: 644, y: 1688,
    style: { text: 'λ[μm]', align: 'center', verticalAlign: 'middle', font: `italic 30px "${FONT}"`, fill: '#000' },
  });

  return {
    animation: false,
    backgroundColor: '#fff',
    legend: {
      top: 3, left: 240, itemWidth: 62, itemHeight: 14, itemGap: 41,
      data: ['Observation', 'Model', 'AGN', 'Starburst'],
      itemStyle: { opacity: 0 },
      textStyle: { fontSize: 24.5, fontFamily: FONT, color: '#000', padding: [0, 0, 0, 4] },
    },
    grid, xAxis, yAxis, series, graphic,
  };
}

export default function App() {
  const ref = useRef<HTMLDivElement>(null);
  useEffect(() => {
    if (!ref.current) return;
    const chart = echarts.init(ref.current, null, { renderer: 'svg' });
    chart.setOption(buildOption() as any);
    return () => chart.dispose();
  }, []);
  return <div ref={ref} style={{ position: 'absolute', left: 0, top: 0, width: 1253, height: 1710, background: '#fff' }} />;
}
